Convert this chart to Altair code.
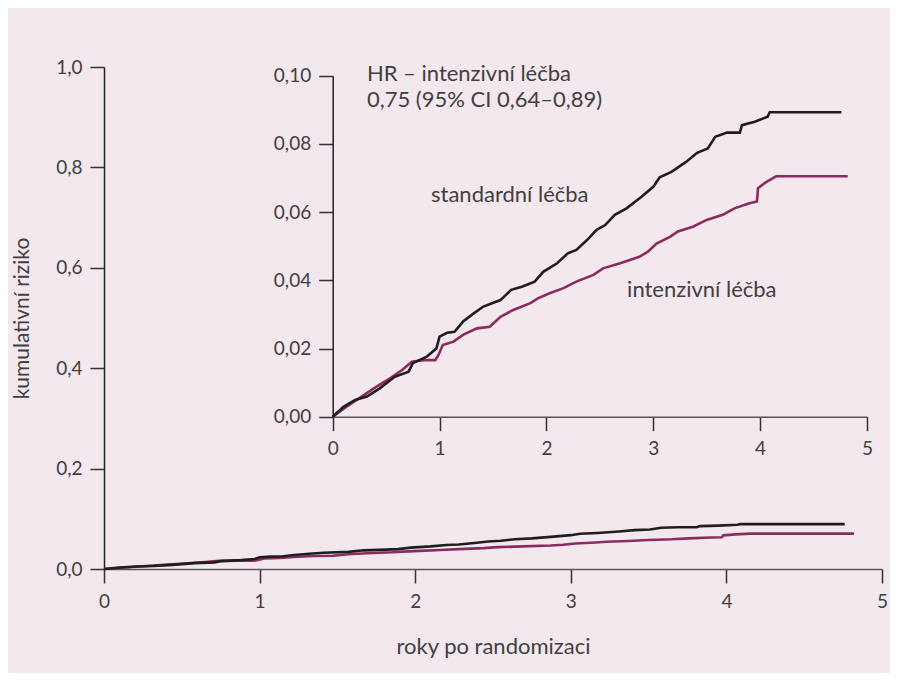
import altair as alt
import pandas as pd

# ---- data ----
group_names = ["standardní léčba", "intenzivní léčba"]

std_t = [0.00, 0.10, 0.21, 0.32, 0.44, 0.58, 0.71, 0.75, 0.88, 0.97, 1.00, 1.07, 1.14,
         1.22, 1.32, 1.41, 1.57, 1.67, 1.77, 1.89, 1.97, 2.10, 2.20, 2.28, 2.38, 2.47,
         2.55, 2.64, 2.75, 2.89, 3.00, 3.06, 3.17, 3.31, 3.41, 3.51, 3.58, 3.69, 3.81,
         3.83, 3.95, 4.07, 4.09, 4.76]
std_v = [0.0000, 0.0029, 0.0049, 0.0059, 0.0083, 0.0117, 0.0132, 0.0157, 0.0176, 0.0200,
         0.0235, 0.0246, 0.0249, 0.0279, 0.0303, 0.0323, 0.0342, 0.0372, 0.0381, 0.0396,
         0.0425, 0.0450, 0.0479, 0.0489, 0.0518, 0.0548, 0.0562, 0.0592, 0.0611, 0.0645,
         0.0674, 0.0702, 0.0718, 0.0748, 0.0774, 0.0787, 0.0821, 0.0833, 0.0833, 0.0855,
         0.0865, 0.0880, 0.0893, 0.0893]

int_t = [0.00, 0.13, 0.27, 0.41, 0.54, 0.65, 0.74, 0.85, 0.96, 0.99, 1.03, 1.13, 1.22,
         1.35, 1.47, 1.57, 1.69, 1.85, 1.92, 2.03, 2.16, 2.28, 2.44, 2.53, 2.69, 2.87,
         2.95, 3.03, 3.16, 3.23, 3.37, 3.50, 3.65, 3.76, 3.90, 3.97, 3.98, 4.06, 4.15, 4.82]
int_v = [0.0000, 0.0029, 0.0059, 0.0088, 0.0113, 0.0137, 0.0161, 0.0166, 0.0166, 0.0181,
         0.0210, 0.0220, 0.0240, 0.0259, 0.0264, 0.0293, 0.0313, 0.0333, 0.0347, 0.0362,
         0.0377, 0.0396, 0.0416, 0.0435, 0.0450, 0.0469, 0.0484, 0.0508, 0.0528, 0.0543,
         0.0557, 0.0577, 0.0592, 0.0611, 0.0626, 0.0631, 0.0670, 0.0689, 0.0705, 0.0705]

x_ticks = [0, 1, 2, 3, 4, 5]
main_y_ticks = [0.0, 0.2, 0.4, 0.6, 0.8, 1.0]
inset_y_ticks = [0.00, 0.02, 0.04, 0.06, 0.08, 0.10]

note_lines = ["HR – intenzivní léčba", "0,75 (95% CI 0,64–0,89)"]
note_t = [0.32, 0.32]
note_v = [0.0984, 0.0908]

label_texts = ["standardní léčba", "intenzivní léčba"]
label_t = [0.92, 2.755]
label_v = [0.0630, 0.0350]

colors = ["#1e1e1e", "#8c2b5f"]

# ---- tables ----
rows = []
for i, (t, v) in enumerate(zip(int_t, int_v)):
    rows.append({"t": t, "v": v, "group": group_names[1], "i": i, "z": 0})
for i, (t, v) in enumerate(zip(std_t, std_v)):
    rows.append({"t": t, "v": v, "group": group_names[0], "i": i, "z": 1})
df = pd.DataFrame(rows)

texts = pd.DataFrame({
    "t": note_t + label_t,
    "v": note_v + label_v,
    "txt": note_lines + label_texts,
})

FONT = "Lato"
TXT = "#404040"
TICK_FS = 19
TEXT_FS = 22
W, H = 778, 502

color = alt.Color("group:N", scale=alt.Scale(domain=group_names, range=colors), legend=None)

common_axis = dict(
    labelFont=FONT, labelFontSize=TICK_FS, labelFontWeight=400, labelColor=TXT,
    tickSize=14, tickWidth=1.5, tickColor="#333333", domainWidth=1.5,
    grid=False, labelFlush=False, labelOverlap=False,
)

main_x_axis = alt.Axis(
    values=x_ticks, format="d", orient="bottom", labelPadding=9, domainColor="#555555",
    title="roky po randomizaci", titleFont=FONT, titleFontSize=TEXT_FS, titleFontWeight=400,
    titleColor=TXT, titleY=77, titleBaseline="middle", **common_axis)
main_y_axis = alt.Axis(
    values=main_y_ticks, orient="left", labelPadding=8, domainColor="#222222",
    labelExpr="replace(format(datum.value, '.1f'), '.', ',')",
    title="kumulativní riziko", titleFont=FONT, titleFontSize=21, titleFontWeight=400,
    titleColor=TXT, titleAngle=270, titleX=-82, titleY=H / 2, titleAlign="center",
    titleBaseline="middle", **common_axis)

inset_x_axis = alt.Axis(
    values=x_ticks, format="d", orient="bottom", offset=-152.3, labelPadding=9,
    domainColor="#555555", title=None, **common_axis)
inset_y_axis = alt.Axis(
    values=inset_y_ticks, orient="left", offset=-228.7, labelPadding=8,
    domainColor="#222222", labelExpr="replace(format(datum.value, '.2f'), '.', ',')",
    title=None, **common_axis)

main = alt.Chart(df).mark_line(strokeWidth=2.6).encode(
    x=alt.X("t:Q", scale=alt.Scale(domain=[0, 5], nice=False, zero=False), axis=main_x_axis),
    y=alt.Y("v:Q", scale=alt.Scale(domain=[0, 1], nice=False), axis=main_y_axis),
    color=color,
    order=alt.Order("i:Q"),
    detail="z:N",
)

inset_xs = alt.Scale(domain=[0, 5], range=[228.7, 763], nice=False, zero=False)
inset_ys = alt.Scale(domain=[0, 0.1], range=[349.7, 8.7], nice=False)

inset_lines = alt.Chart(df).mark_line(strokeWidth=2.6).encode(
    x=alt.X("t:Q", scale=inset_xs, axis=inset_x_axis),
    y=alt.Y("v:Q", scale=inset_ys, axis=inset_y_axis),
    color=color,
    order=alt.Order("i:Q"),
    detail="z:N",
)
inset_text = alt.Chart(texts).mark_text(
    align="left", baseline="alphabetic", font=FONT, fontSize=TEXT_FS, fontWeight=400, color=TXT
).encode(
    x=alt.X("t:Q", scale=inset_xs, axis=inset_x_axis),
    y=alt.Y("v:Q", scale=inset_ys, axis=inset_y_axis),
    text="txt:N",
)
inset = alt.layer(inset_lines, inset_text)

chart = alt.layer(main, inset).resolve_scale(x="independent", y="independent").properties(
    width=W, height=H,
    autosize=alt.AutoSizeParams(type="none"),
    padding={"left": 96, "top": 59, "right": 8, "bottom": 104},
    background="#f3e8ee",
).configure_view(stroke=None)

chart.save("out.html", embed_options={"renderer": "svg", "actions": False})
